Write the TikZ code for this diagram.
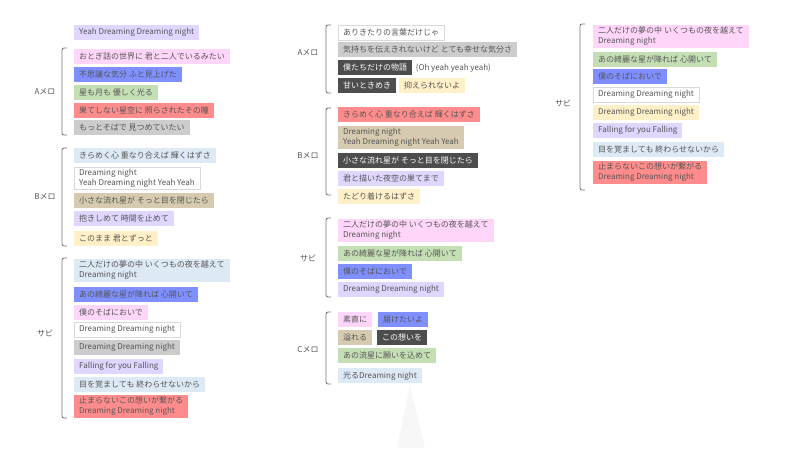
\documentclass[tikz,border=0pt]{standalone}
\usepackage{fontspec}
\setmainfont{Noto Sans CJK JP}
\begin{document}
\definecolor{tx}{HTML}{555555}
\definecolor{cpink}{HTML}{FFD6FA}
\definecolor{cblue}{HTML}{7F8FFF}
\definecolor{cgreen}{HTML}{C5DFB5}
\definecolor{cred}{HTML}{FF8C8C}
\definecolor{cgray}{HTML}{CCCCCC}
\definecolor{clb}{HTML}{DDE9F5}
\definecolor{clav}{HTML}{E0D6FF}
\definecolor{cyel}{HTML}{FFF0C8}
\definecolor{ctan}{HTML}{D6CBB0}
\definecolor{cdark}{HTML}{4D4D4D}
\begin{tikzpicture}[x=1pt,y=-1pt,
  box/.style={anchor=north west,font=\fontsize{8}{10}\selectfont,text=tx,inner xsep=5pt,inner ysep=2pt,minimum height=15pt,align=left},
  pink/.style={box,fill=cpink}, blue/.style={box,fill=cblue}, green/.style={box,fill=cgreen},
  red/.style={box,fill=cred}, gray/.style={box,fill=cgray}, lb/.style={box,fill=clb},
  lav/.style={box,fill=clav}, yel/.style={box,fill=cyel}, tan/.style={box,fill=ctan},
  dark/.style={box,fill=cdark,text=white}, wht/.style={box,fill=white,draw=black!15},
  lbl/.style={font=\fontsize{8}{10}\selectfont,text=tx},
  br/.style={draw=black!55,line width=0.8pt,rounded corners=2pt}]
\useasboundingbox (0,0) rectangle (800,448);
\fill[black!3] (410,385) -- (397,448) -- (425,448) -- cycle;
% column 1
\node[lav] (t0) at (74,25) {Yeah Dreaming Dreaming night};
\node[pink] (a1) at (74,49) {おとぎ話の世界に 君と二人でいるみたい};
\node[blue] (a2) at (74,67) {不思議な気分 ふと見上げた};
\node[green] (a3) at (74,85) {星も月も 優しく光る};
\node[red] (a4) at (74,103) {果てしない星空に 照らされたその瞳};
\node[gray] (a5) at (74,120) {もっとそばで 見つめていたい};
\draw[br] (67,48) -- (62,48) -- (62,135) -- (67,135);
\node[lbl] (la) at (45,92) {Aメロ};
\node[lb] (b1) at (74,148) {きらめく心 重なり合えば 輝くはずさ};
\node[wht] (b2) at (74,167) {Dreaming night\\Yeah Dreaming night Yeah Yeah};
\node[tan] (b3) at (74,193) {小さな流れ星が そっと目を閉じたら};
\node[lav] (b4) at (74,211) {抱きしめて 時間を止めて};
\node[yel] (b5) at (74,231) {このまま 君とずっと};
\draw[br] (67,148) -- (62,148) -- (62,246) -- (67,246);
\node[lbl] (lb) at (45,197) {Bメロ};
\node[lb] (s1) at (74,259) {二人だけの夢の中 いくつもの夜を越えて\\Dreaming night};
\node[blue] (s2) at (74,287) {あの綺麗な星が降れば 心開いて};
\node[pink] (s3) at (74,305) {僕のそばにおいで};
\node[wht] (s4) at (74,322) {Dreaming Dreaming night};
\node[gray] (s5) at (74,340) {Dreaming Dreaming night};
\node[lav] (s6) at (74,359) {Falling for you Falling};
\node[lb] (s7) at (74,377) {目を覚ましても 終わらせないから};
\node[red] (s8) at (74,395) {止まらないこの想いが繋がる\\Dreaming Dreaming night};
\draw[br] (67,258) -- (62,258) -- (62,418) -- (67,418);
\node[lbl] (ls) at (45,333) {サビ};
% column 2
\node[wht] (c1) at (338,25) {ありきたりの言葉だけじゃ};
\node[gray] (c2) at (338,42) {気持ちを伝えきれないけど とても幸せな気分さ};
\node[dark] (c3) at (338,60) {僕たちだけの物語};
\node[lbl,anchor=west] (c3b) at (c3.east) {(Oh yeah yeah yeah)};
\node[dark] (c4) at (338,78) {甘いときめき};
\node[yel] (c5) at (399,78) {抑えられないよ};
\draw[br] (331,25) -- (326,25) -- (326,93) -- (331,93);
\node[lbl] (lc) at (308,53) {Aメロ};
\node[red] (d1) at (338,107) {きらめく心 重なり合えば 輝くはずさ};
\node[tan] (d2) at (338,126) {Dreaming night\\Yeah Dreaming night Yeah Yeah};
\node[dark] (d3) at (338,153) {小さな流れ星が そっと目を閉じたら};
\node[lav] (d4) at (338,171) {君と描いた夜空の果てまで};
\node[yel] (d5) at (338,189) {たどり着けるはずさ};
\draw[br] (331,108) -- (326,108) -- (326,195) -- (331,195);
\node[lbl] (ld) at (308,156) {Bメロ};
\node[pink] (e1) at (338,219) {二人だけの夢の中 いくつもの夜を越えて\\Dreaming night};
\node[green] (e2) at (338,246) {あの綺麗な星が降れば 心開いて};
\node[blue] (e3) at (338,264) {僕のそばにおいで};
\node[lav] (e4) at (338,282) {Dreaming Dreaming night};
\draw[br] (331,218) -- (326,218) -- (326,297) -- (331,297);
\node[lbl] (le) at (308,258) {サビ};
\node[pink] (f1) at (338,312) {素直に};
\node[blue] (f2) at (378,312) {届けたいよ};
\node[tan] (f3) at (338,330) {溢れる};
\node[dark] (f4) at (377,330) {この想いを};
\node[green] (f5) at (338,348) {あの流星に願いを込めて};
\node[lb] (f6) at (338,368) {光るDreaming night};
\draw[br] (331,312) -- (326,312) -- (326,384) -- (331,384);
\node[lbl] (lf) at (308,350) {Cメロ};
% column 3
\node[pink] (g1) at (593,25) {二人だけの夢の中 いくつもの夜を越えて\\Dreaming night};
\node[green] (g2) at (593,52) {あの綺麗な星が降れば 心開いて};
\node[blue] (g3) at (593,69) {僕のそばにおいで};
\node[wht] (g4) at (593,87) {Dreaming Dreaming night};
\node[yel] (g5) at (593,105) {Dreaming Dreaming night};
\node[lav] (g6) at (593,123) {Falling for you Falling};
\node[lb] (g7) at (593,142) {目を覚ましても 終わらせないから};
\node[red] (g8) at (593,161) {止まらないこの想いが繋がる\\Dreaming Dreaming night};
\draw[br] (585,24) -- (580,24) -- (580,190) -- (585,190);
\node[lbl] (lg) at (563,103) {サビ};
\end{tikzpicture}
\end{document}
